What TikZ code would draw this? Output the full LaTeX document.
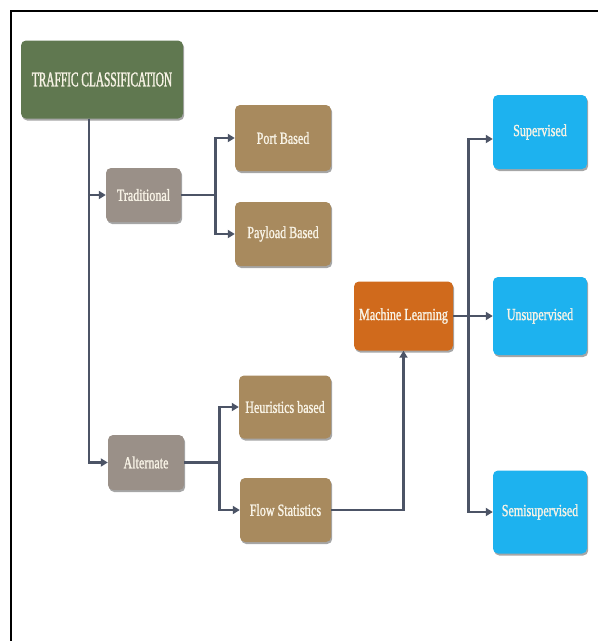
\documentclass[tikz,border=0pt]{standalone}
\usepackage{fontspec}
\usetikzlibrary{arrows.meta,shadows}
\newfontfamily\boxfont[FakeStretch=0.71,FakeBold=1.2]{Liberation Serif}
\newfontfamily\titlefont[FakeStretch=0.54,FakeBold=1.2]{Liberation Serif}
\definecolor{tcgreen}{HTML}{607850}
\definecolor{tgray}{HTML}{9A9088}
\definecolor{tan}{HTML}{A88A5E}
\definecolor{mlorange}{HTML}{D06A1C}
\definecolor{skyblue}{HTML}{1DB2EF}
\definecolor{conncol}{HTML}{4C5466}
\definecolor{txtcol}{HTML}{F8F3E6}
\tikzset{
  box/.style={rectangle, rounded corners=5pt, inner sep=0pt, text=txtcol,
    font=\boxfont\fontsize{17}{19}\selectfont,
    drop shadow={shadow xshift=1.2pt, shadow yshift=-2pt, opacity=0.35, fill=black}},
  conn/.style={draw=conncol, line width=2.8pt, -{Triangle[length=7pt,width=8pt]}},
  plain/.style={draw=conncol, line width=2.8pt},
}
\begin{document}
\begin{tikzpicture}[x=1pt,y=-1pt]
\useasboundingbox (0,0) rectangle (598,641);
\fill[white] (0,0) rectangle (598,641);
\draw[line width=2pt, black] (598,11) -- (11,11) -- (11,641);

\node[box, fill=tcgreen, minimum width=162pt, minimum height=78pt,
      font=\titlefont\fontsize{21}{23}\selectfont] (tc) at (102,79.5) {TRAFFIC CLASSIFICATION};
\node[box, fill=tgray, minimum width=75pt, minimum height=54pt] (trad) at (143.5,195) {Traditional};
\node[box, fill=tgray, minimum width=76pt, minimum height=55pt] (alt) at (146,462.5) {Alternate};
\node[box, fill=tan, minimum width=96pt, minimum height=66pt] (port) at (283,138) {Port Based};
\node[box, fill=tan, minimum width=96pt, minimum height=64pt] (pay) at (283,234) {Payload Based};
\node[box, fill=tan, minimum width=92pt, minimum height=63pt] (heur) at (285,407) {Heuristics based};
\node[box, fill=tan, minimum width=91pt, minimum height=64pt] (flow) at (285.5,510) {Flow Statistics};
\node[box, fill=mlorange, minimum width=99pt, minimum height=69pt] (ml) at (403.5,316) {Machine Learning};
\node[box, fill=skyblue, minimum width=94pt, minimum height=74pt] (sup) at (540,132) {Supervised};
\node[box, fill=skyblue, minimum width=94pt, minimum height=78pt] (unsup) at (540,316) {Unsupervised};
\node[box, fill=skyblue, minimum width=94pt, minimum height=83pt] (semi) at (540,512) {Semisupervised};

\coordinate (tcj) at ([xshift=-13pt]tc.south);
\draw[conn] (tcj) |- (trad.west);
\draw[conn] (tcj) |- (alt.west);

\coordinate (trj) at ([xshift=34pt]trad.east);
\draw[plain] (trad.east) -- (trj);
\draw[conn] (trj) |- (port.west);
\draw[conn] (trj) |- (pay.west);

\coordinate (alj) at ([xshift=35pt]alt.east);
\draw[plain] (alt.east) -- (alj);
\draw[conn] (alj) |- (heur.west);
\draw[conn] (alj) |- (flow.west);

\draw[conn] (flow.east) -| (ml.south);
\draw[conn] (ml.east) -- (unsup.west);

\coordinate (mlj) at ([xshift=15pt]ml.east);
\draw[conn] (mlj) |- ([yshift=-7pt]sup.west);
\draw[conn] (mlj) |- (semi.west);
\end{tikzpicture}
\end{document}
